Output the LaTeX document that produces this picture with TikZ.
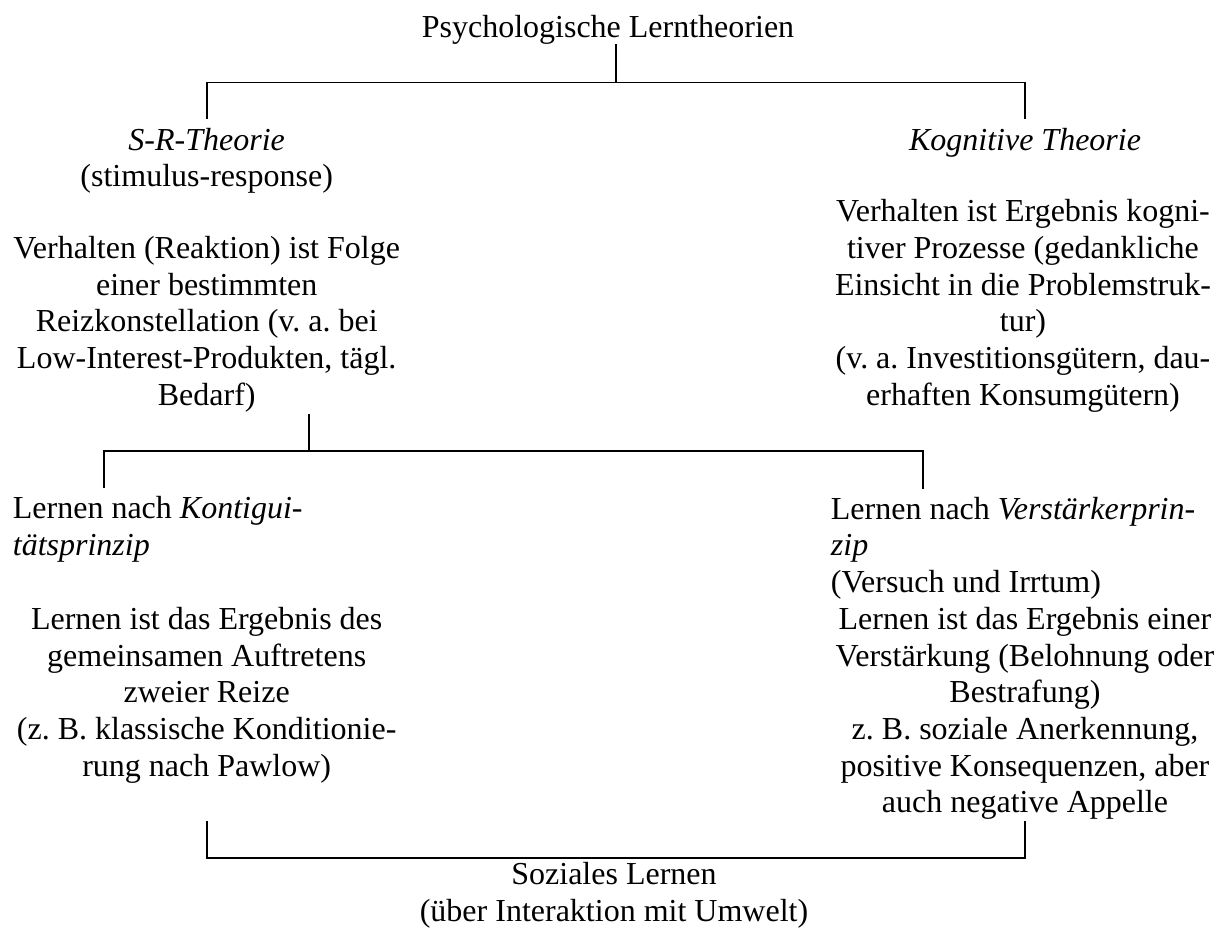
\documentclass[tikz,border=0pt]{standalone}
\usepackage{fontspec}
\setmainfont{Liberation Serif}
\usepackage{tikz}
\frenchspacing

\begin{document}
\begin{tikzpicture}[x=1pt,y=-1pt,
  txt/.style={inner sep=0pt,anchor=base,align=center,font=\fontsize{32}{36.7}\selectfont},
  lefttxt/.style={txt,anchor=base west,align=left},
  conn/.style={line width=1.8pt}]
\useasboundingbox (0,0) rectangle (1227,929);
% top level (anchors sit on the last line)
\node[txt] (root) at (608,37.3) {Psychologische Lerntheorien};
\node[txt] (sr) at (206.7,186.7) {\textit{S-R-Theorie}\\(stimulus-response)};
\node[txt] (kog) at (1025,150) {\textit{Kognitive Theorie}};
\node[txt] (srtext) at (206.7,405.1) {Verhalten (Reaktion) ist Folge\\einer bestimmten\\Reizkonstellation (v. a. bei\\Low-Interest-Produkten, tägl.\\Bedarf)};
\node[txt] (kogtext) at (1023,405.2) {Verhalten ist Ergebnis kogni-\\tiver Prozesse (gedankliche\\Einsicht in die Problemstruk-\\tur)\\(v. a. Investitionsgütern, dau-\\erhaften Konsumgütern)};
% second level
\node[lefttxt] (kont) at (12.7,555) {Lernen nach \textit{Kontigui-}\\\textit{tätsprinzip}};
\node[lefttxt] (verst) at (830.7,592.4) {Lernen nach \textit{Verstärkerprin-}\\\textit{zip}\\(Versuch und Irrtum)};
\node[txt] (kontext) at (206.7,776.1) {Lernen ist das Ergebnis des\\gemeinsamen Auftretens\\zweier Reize\\(z. B. klassische Konditionie-\\rung nach Pawlow)};
\node[txt] (verstext) at (1025,812.8) {Lernen ist das Ergebnis einer\\Verstärkung (Belohnung oder\\Bestrafung)\\z. B. soziale Anerkennung,\\positive Konsequenzen, aber\\auch negative Appelle};
\node[txt] (sozial) at (614,921) {Soziales Lernen\\(über Interaktion mit Umwelt)};
% brackets
\draw[conn] ([xshift=8pt]root.south) -- ++(0,38) -| ([yshift=9pt]sr.north);
\draw[conn] ([xshift=8pt]root.south) -- ++(0,38) -| ([yshift=9pt]kog.north);
\draw[conn] ([xshift=102.6pt,yshift=-2pt]srtext.south) -- ++(0,36.5) -| ([xshift=91.3pt,yshift=8pt]kont.north west);
\draw[conn] ([xshift=102.6pt,yshift=-2pt]srtext.south) -- ++(0,36.5) -| ([xshift=92pt,yshift=8pt]verst.north west);
\draw[conn] ([yshift=-38pt]kontext.south) -- ++(0,36.5) -| ([yshift=-1pt]verstext.south);
\end{tikzpicture}
\end{document}
